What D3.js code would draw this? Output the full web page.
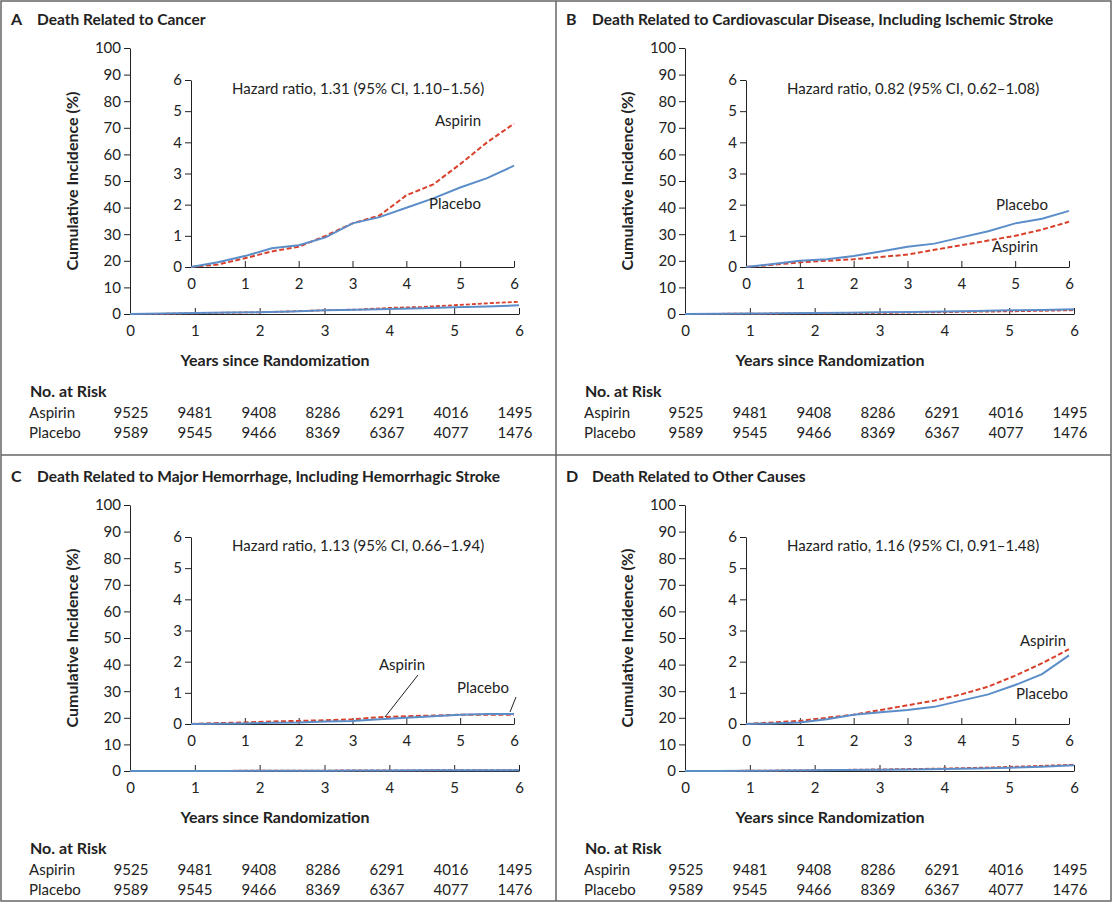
<!DOCTYPE html>
<html lang="en">
<head>
<meta charset="utf-8">
<style>
  body { margin: 0; background: #fff; }
  text { font-family: Lato, "Open Sans", sans-serif; fill: #222; }
</style>
</head>
<body>
<script src="https://d3js.org/d3.v7.min.js"></script>
<script>
// data
var titles = ['Death Related to Cancer',
  'Death Related to Cardiovascular Disease, Including Ischemic Stroke',
  'Death Related to Major Hemorrhage, Including Hemorrhagic Stroke',
  'Death Related to Other Causes'];
var letters = ['A', 'B', 'C', 'D'];
var hazard = ['Hazard ratio, 1.31 (95% CI, 1.10\u20131.56)',
  'Hazard ratio, 0.82 (95% CI, 0.62\u20131.08)',
  'Hazard ratio, 1.13 (95% CI, 0.66\u20131.94)',
  'Hazard ratio, 1.16 (95% CI, 0.91\u20131.48)'];
var years = [0, 0.5, 1, 1.5, 2, 2.5, 3, 3.5, 4, 4.5, 5, 5.5, 6];
var aspirinA = [0, 0.08, 0.28, 0.5, 0.65, 1.0, 1.4, 1.65, 2.3, 2.65, 3.3, 4.0, 4.6];
var placeboA = [0, 0.15, 0.35, 0.6, 0.7, 0.95, 1.4, 1.6, 1.9, 2.2, 2.55, 2.85, 3.25];
var aspirinB = [0, 0.07, 0.15, 0.2, 0.25, 0.32, 0.4, 0.55, 0.7, 0.85, 1.0, 1.2, 1.45];
var placeboB = [0, 0.1, 0.2, 0.25, 0.35, 0.5, 0.65, 0.75, 0.95, 1.15, 1.4, 1.55, 1.8];
var aspirinC = [0, 0.03, 0.05, 0.08, 0.1, 0.12, 0.15, 0.22, 0.25, 0.27, 0.3, 0.3, 0.3];
var placeboC = [0, 0.01, 0.02, 0.04, 0.05, 0.08, 0.1, 0.15, 0.2, 0.25, 0.3, 0.32, 0.32];
var aspirinD = [0, 0.05, 0.1, 0.2, 0.3, 0.45, 0.6, 0.75, 0.95, 1.2, 1.55, 1.95, 2.4];
var placeboD = [0, 0.02, 0.05, 0.15, 0.3, 0.38, 0.45, 0.55, 0.75, 0.95, 1.25, 1.6, 2.2];
var aspirinSeries = [aspirinA, aspirinB, aspirinC, aspirinD];
var placeboSeries = [placeboA, placeboB, placeboC, placeboD];
var riskAspirin = [9525, 9481, 9408, 8286, 6291, 4016, 1495];
var riskPlacebo = [9589, 9545, 9466, 8369, 6367, 4077, 1476];
var mainTicks = [0, 10, 20, 30, 40, 50, 60, 70, 80, 90, 100];
var insetTicks = [0, 1, 2, 3, 4, 5, 6];
var xTicks = [0, 1, 2, 3, 4, 5, 6];

var RED = '#d9402b', BLUE = '#5b8dc9';
var fmt = d3.format('d');
var svg = d3.select('body').append('svg').attr('width', 1113).attr('height', 916);

// frames
svg.append('rect').attr('x', 1).attr('y', 1).attr('width', 1110).attr('height', 900)
  .attr('fill', 'none').attr('stroke', '#666').attr('stroke-width', 1.5);
svg.append('line').attr('x1', 556).attr('x2', 556).attr('y1', 1).attr('y2', 901).attr('stroke', '#666').attr('stroke-width', 1.5);
svg.append('line').attr('x1', 1).attr('x2', 1111).attr('y1', 455).attr('y2', 455).attr('stroke', '#666').attr('stroke-width', 1.5);

var offsets = [[0, 0], [555, 0], [0, 457], [555, 457]];
// label positions per panel: [aspirin x,y, placebo x,y]
var labels = [[458, 126, 455, 209], [1015, 252, 1022, 210], [402, 670, 483, 693], [1043, 646, 1042, 699]];

function styleAxis(a, bottom) {
  a.selectAll('text').attr('font-size', 15).attr('fill', '#222');
  a.selectAll('path,line').attr('stroke', '#222');
  if (bottom) {
    a.selectAll('line').attr('transform', 'translate(0,-6)');
    a.selectAll('text').attr('dy', '0.85em');
  }
}

offsets.forEach(function (o, i) {
  var g = svg.append('g').attr('transform', 'translate(' + o[0] + ',' + o[1] + ')');
  g.append('text').attr('x', 11).attr('y', 25).attr('font-weight', 'bold').attr('font-size', 16).text(letters[i]);
  g.append('text').attr('x', 37).attr('y', 25).attr('font-weight', 'bold').attr('font-size', 15.5).text(titles[i]);

  // main axes
  var x = d3.scaleLinear().domain([0, 6]).range([130, 519]);
  var y = d3.scaleLinear().domain([0, 100]).range([314, 48]);
  styleAxis(g.append('g').attr('transform', 'translate(0,314)')
    .call(d3.axisBottom(x).tickValues(xTicks).tickFormat(fmt).tickSize(6).tickSizeOuter(0)), true);
  styleAxis(g.append('g').attr('transform', 'translate(130,0)')
    .call(d3.axisLeft(y).tickValues(mainTicks).tickFormat(fmt).tickSize(6).tickSizeOuter(0)), false);

  var line = d3.line().x(function (d) { return x(d[0]); }).y(function (d) { return y(d[1]); });
  g.append('path').datum(years.map(function (t, k) { return [t, aspirinSeries[i][k]]; }))
    .attr('d', line).attr('fill', 'none').attr('stroke', RED).attr('stroke-width', 1.8).attr('stroke-dasharray', '4,2');
  g.append('path').datum(years.map(function (t, k) { return [t, placeboSeries[i][k]]; }))
    .attr('d', line).attr('fill', 'none').attr('stroke', BLUE).attr('stroke-width', 2);

  g.append('text').attr('x', 275).attr('y', 366).attr('text-anchor', 'middle')
    .attr('font-weight', 'bold').attr('font-size', 16).text('Years since Randomization');
  g.append('text').attr('transform', 'translate(78,181) rotate(-90)').attr('text-anchor', 'middle')
    .attr('font-weight', 'bold').attr('font-size', 16).text('Cumulative Incidence (%)');

  // inset
  var xi = d3.scaleLinear().domain([0, 6]).range([191, 514]);
  var yi = d3.scaleLinear().domain([0, 6]).range([267, 80]);
  styleAxis(g.append('g').attr('transform', 'translate(0,267)')
    .call(d3.axisBottom(xi).tickValues(xTicks).tickFormat(fmt).tickSize(6).tickSizeOuter(0)), true);
  styleAxis(g.append('g').attr('transform', 'translate(191,0)')
    .call(d3.axisLeft(yi).tickValues(insetTicks).tickFormat(fmt).tickSize(6).tickSizeOuter(0)), false);
  var linei = d3.line().x(function (d) { return xi(d[0]); }).y(function (d) { return yi(d[1]); });
  g.append('path').datum(years.map(function (t, k) { return [t, aspirinSeries[i][k]]; }))
    .attr('d', linei).attr('fill', 'none').attr('stroke', RED).attr('stroke-width', 2).attr('stroke-dasharray', '5,2.5');
  g.append('path').datum(years.map(function (t, k) { return [t, placeboSeries[i][k]]; }))
    .attr('d', linei).attr('fill', 'none').attr('stroke', BLUE).attr('stroke-width', 2);
  g.append('text').attr('x', 232).attr('y', 94).attr('font-size', 15).text(hazard[i]);

  var L = labels[i];
  g.append('text').attr('x', L[0] - o[0]).attr('y', L[1] - o[1]).attr('text-anchor', 'middle').attr('font-size', 15).text('Aspirin');
  g.append('text').attr('x', L[2] - o[0]).attr('y', L[3] - o[1]).attr('text-anchor', 'middle').attr('font-size', 15).text('Placebo');
  if (i === 2) {
    g.append('line').attr('x1', 418).attr('y1', 218).attr('x2', 385).attr('y2', 260).attr('stroke', '#222');
    g.append('line').attr('x1', 516).attr('y1', 240).attr('x2', 510).attr('y2', 255).attr('stroke', '#222');
  }

  // risk table
  g.append('text').attr('x', 30).attr('y', 397).attr('font-weight', 'bold').attr('font-size', 16).text('No. at Risk');
  g.append('text').attr('x', 29).attr('y', 418).attr('font-size', 15).text('Aspirin');
  g.append('text').attr('x', 29).attr('y', 438).attr('font-size', 15).text('Placebo');
  var xr = d3.scaleLinear().domain([0, 6]).range([131, 515]);
  riskAspirin.forEach(function (v, k) {
    g.append('text').attr('x', xr(k)).attr('y', 418).attr('text-anchor', 'middle').attr('font-size', 15).text(v);
    g.append('text').attr('x', xr(k)).attr('y', 438).attr('text-anchor', 'middle').attr('font-size', 15).text(riskPlacebo[k]);
  });
});
</script>
</body>
</html>
